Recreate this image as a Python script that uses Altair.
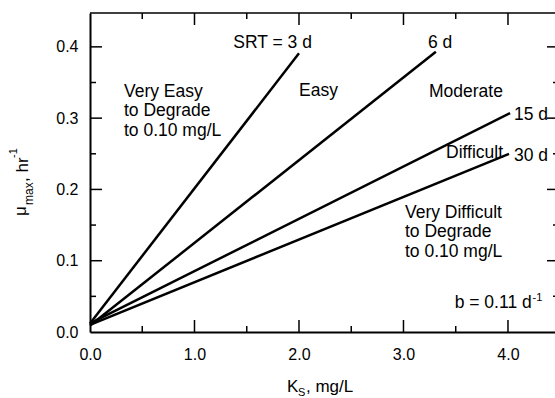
import altair as alt
import pandas as pd

# ---- data ----
srt_labels = ["3 d", "6 d", "15 d", "30 d"]
ks_start = [0.0, 0.0, 0.0, 0.0]
mu_start = [0.012, 0.009, 0.012, 0.010]
ks_end = [2.0, 3.31, 4.02, 4.01]
mu_end = [0.391, 0.393, 0.307, 0.250]

x_major = [0.0, 1.0, 2.0, 3.0, 4.0]
x_minor = [0.5, 1.5, 2.5, 3.5]
y_major = [0.0, 0.1, 0.2, 0.3, 0.4]
y_minor = [0.05, 0.15, 0.25, 0.35]

region_very_easy = ["Very Easy", "to Degrade", "to 0.10 mg/L"]
region_very_difficult = ["Very Difficult", "to Degrade", "to 0.10 mg/L"]

W, H = 465, 319
FONT = "Liberation Sans"
FS = 17.5

xs = alt.Scale(domain=[0, 4.45], nice=False, zero=False)
ys = alt.Scale(domain=[0, 0.4475], nice=False, zero=False)

rows = []
for lab, x0, y0, x1, y1 in zip(srt_labels, ks_start, mu_start, ks_end, mu_end):
    rows.append({"srt": lab, "ks": x0, "mu": y0, "o": 0})
    rows.append({"srt": lab, "ks": x1, "mu": y1, "o": 1})
lines_df = pd.DataFrame(rows)

one = pd.DataFrame({"a": [0]})

lines = alt.Chart(lines_df).mark_line(color="black", strokeWidth=2.5).encode(
    x=alt.X("ks:Q", scale=xs, axis=alt.Axis(
        values=x_major, format=".1f", title=None, grid=False, ticks=False,
        domain=True, domainColor="black", domainWidth=2,
        labelFontSize=16, labelFont=FONT, labelColor="black", labelPadding=14,
        labelFlush=False, labelOverlap=False)),
    y=alt.Y("mu:Q", scale=ys, axis=alt.Axis(
        values=y_major, format=".1f", title=None, grid=False, ticks=False,
        domain=True, domainColor="black", domainWidth=2,
        labelFontSize=16, labelFont=FONT, labelColor="black", labelPadding=12,
        labelOverlap=False)),
    detail="srt:N",
    order="o:Q",
)

# top frame line
top_line = alt.Chart(one).mark_rule(color="black", strokeWidth=1.5).encode(
    x=alt.value(0), x2=alt.value(W), y=alt.value(0))


def xticks(vals, y1, y2):
    return alt.Chart(pd.DataFrame({"v": vals})).mark_rule(color="black", strokeWidth=1.5).encode(
        x=alt.X("v:Q", scale=xs), y=alt.value(y1), y2=alt.value(y2))


def yticks(vals, x1, x2):
    return alt.Chart(pd.DataFrame({"v": vals})).mark_rule(color="black", strokeWidth=1.5).encode(
        y=alt.Y("v:Q", scale=ys), x=alt.value(x1), x2=alt.value(x2))


ticks = [
    xticks(x_major[1:], H, H - 12), xticks(x_minor, H, H - 6),
    xticks(x_major[1:], 0, 12), xticks(x_minor, 0, 6),
    yticks(y_major[1:], 0, 12), yticks(y_minor, 0, 6),
    yticks(y_major[1:], W + 4, W - 8), yticks(y_minor, W + 4, W - 2),
]


def dtext(text, x, y, align="left", size=FS, lh=None):
    kw = dict(text=text, align=align, baseline="alphabetic", fontSize=size,
              font=FONT, color="black")
    if lh is not None:
        kw["lineHeight"] = lh
    return alt.Chart(one).mark_text(**kw).encode(
        x=alt.X(datum=x, scale=xs), y=alt.Y(datum=y, scale=ys))


def ptext(text, x, y, size, angle=0):
    kw = dict(text=text, align="left", baseline="alphabetic", fontSize=size,
              font=FONT, color="black")
    if angle:
        kw["angle"] = angle
    return alt.Chart(one).mark_text(**kw).encode(x=alt.value(x), y=alt.value(y))


annotations = [
    dtext("SRT = " + srt_labels[0], 2.124, 0.398, align="right"),
    dtext(srt_labels[1], 3.234, 0.398),
    dtext(srt_labels[2], 4.057, 0.297),
    dtext(srt_labels[3], 4.057, 0.240),
    dtext("Easy", 2.0, 0.331),
    dtext("Moderate", 3.244, 0.330),
    dtext("Difficult", 3.407, 0.244),
    dtext(region_very_easy, 0.325, 0.330, lh=19.5),
    dtext(region_very_difficult, 3.014, 0.160, lh=19.5),
    dtext("b = 0.11 d", 3.49, 0.034),
    dtext("-1", 4.235, 0.043, size=11),
]

# axis titles composed with sub/superscripts
titles = [
    ptext("K", 197, 379, 17),
    ptext("S", 208, 383, 11),
    ptext(", mg/L", 216, 379, 17),
    ptext("\u03bc", -64, 203, 17, angle=270),
    ptext("max", -57, 192, 12, angle=270),
    ptext(", hr", -62, 169, 17, angle=270),
    ptext("-1", -73, 145, 11, angle=270),
]

chart = alt.layer(lines, top_line, *ticks, *annotations, *titles).properties(
    width=W, height=H,
    padding={"left": 90, "top": 13, "right": 0, "bottom": 66},
    autosize="none",
    background="white",
).configure_view(strokeWidth=0)

chart.save("out.html", embed_options={"renderer": "svg", "actions": False})
